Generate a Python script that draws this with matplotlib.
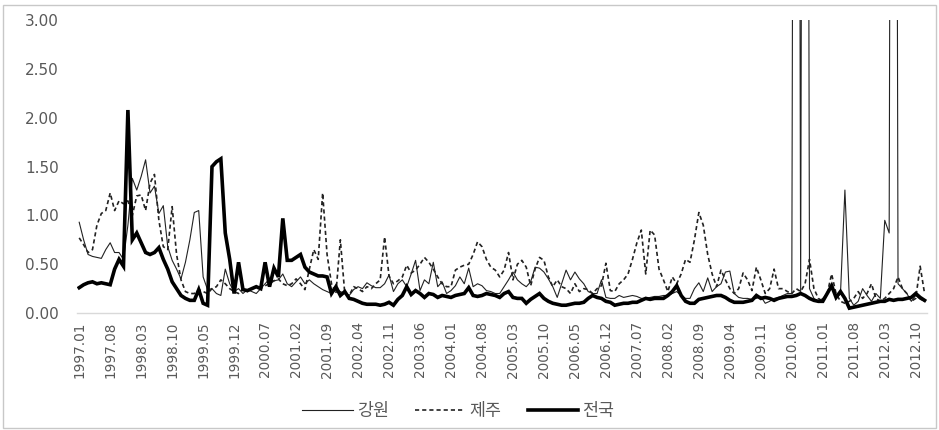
import numpy as np
import matplotlib
matplotlib.use('Agg')
import matplotlib.pyplot as plt
from matplotlib.patches import Rectangle

plt.rcParams['font.family'] = ['Noto Sans CJK KR', 'DejaVu Sans']

# 1997.01 ~ 2012.12 월별
months = ['%d.%02d' % (y, m) for y in range(1997, 2013) for m in range(1, 13)]

gangwon = [
    0.93, 0.75, 0.60, 0.58, 0.57, 0.56, 0.65, 0.72, 0.62, 0.62,
    0.55, 0.90, 1.38, 1.26, 1.40, 1.57, 1.23, 1.30, 1.02, 1.10,
    0.68, 0.54, 0.45, 0.35, 0.52, 0.75, 1.03, 1.05, 0.37, 0.24,
    0.25, 0.20, 0.18, 0.45, 0.30, 0.22, 0.25, 0.20, 0.24, 0.22,
    0.20, 0.25, 0.30, 0.35, 0.33, 0.34, 0.40, 0.30, 0.27, 0.32,
    0.37, 0.30, 0.34, 0.30, 0.27, 0.24, 0.22, 0.20, 0.25, 0.22,
    0.20, 0.18, 0.24, 0.27, 0.25, 0.31, 0.28, 0.26, 0.26, 0.30,
    0.39, 0.22, 0.30, 0.34, 0.27, 0.40, 0.54, 0.23, 0.34, 0.30,
    0.52, 0.27, 0.32, 0.20, 0.23, 0.28, 0.37, 0.30, 0.46, 0.27,
    0.30, 0.28, 0.23, 0.22, 0.20, 0.20, 0.27, 0.34, 0.42, 0.34,
    0.30, 0.27, 0.32, 0.47, 0.46, 0.42, 0.35, 0.27, 0.16, 0.30,
    0.44, 0.34, 0.42, 0.35, 0.30, 0.22, 0.20, 0.20, 0.34, 0.16,
    0.15, 0.15, 0.18, 0.16, 0.17, 0.18, 0.17, 0.15, 0.15, 0.16,
    0.17, 0.17, 0.18, 0.18, 0.20, 0.22, 0.18, 0.15, 0.15, 0.25,
    0.31, 0.22, 0.36, 0.22, 0.27, 0.30, 0.42, 0.43, 0.20, 0.16,
    0.15, 0.15, 0.14, 0.15, 0.17, 0.10, 0.12, 0.15, 0.16, 0.18,
    0.20, 0.20, 20.0, 0.20, 20.0, 0.25, 0.15, 0.12, 0.15, 0.20,
    0.30, 0.15, 0.20, 1.26, 0.15, 0.08, 0.12, 0.25, 0.18, 0.12,
    0.20, 0.15, 0.95, 0.82, 20.0, 0.30, 0.25, 0.20, 0.12, 0.18,
    0.14, 0.12,
]

jeju = [
    0.77, 0.70, 0.62, 0.65, 0.90, 1.02, 1.05, 1.23, 1.05, 1.15,
    1.12, 1.15, 1.00, 1.20, 1.21, 1.05, 1.33, 1.42, 0.95, 0.68,
    0.65, 1.09, 0.60, 0.34, 0.22, 0.20, 0.20, 0.24, 0.22, 0.20,
    0.25, 0.27, 0.34, 0.30, 0.25, 0.22, 0.20, 0.25, 0.22, 0.25,
    0.27, 0.25, 0.28, 0.30, 0.33, 0.35, 0.30, 0.28, 0.30, 0.35,
    0.30, 0.24, 0.45, 0.65, 0.55, 1.23, 0.60, 0.30, 0.20, 0.75,
    0.20, 0.18, 0.27, 0.25, 0.22, 0.27, 0.25, 0.30, 0.34, 0.78,
    0.38, 0.30, 0.33, 0.37, 0.49, 0.41, 0.44, 0.50, 0.57, 0.52,
    0.45, 0.37, 0.30, 0.27, 0.27, 0.44, 0.47, 0.49, 0.50, 0.60,
    0.73, 0.68, 0.55, 0.47, 0.44, 0.37, 0.44, 0.62, 0.34, 0.50,
    0.54, 0.47, 0.28, 0.45, 0.57, 0.54, 0.37, 0.27, 0.34, 0.27,
    0.25, 0.20, 0.30, 0.22, 0.25, 0.24, 0.20, 0.25, 0.28, 0.51,
    0.23, 0.22, 0.30, 0.34, 0.40, 0.55, 0.72, 0.85, 0.40, 0.85,
    0.80, 0.45, 0.34, 0.22, 0.37, 0.30, 0.40, 0.55, 0.52, 0.75,
    1.03, 0.90, 0.60, 0.40, 0.27, 0.44, 0.34, 0.25, 0.20, 0.25,
    0.41, 0.34, 0.23, 0.47, 0.34, 0.20, 0.25, 0.45, 0.25, 0.25,
    0.22, 0.20, 0.25, 0.22, 0.30, 0.55, 0.25, 0.15, 0.12, 0.20,
    0.40, 0.20, 0.12, 0.10, 0.12, 0.15, 0.22, 0.15, 0.20, 0.30,
    0.15, 0.12, 0.15, 0.20, 0.25, 0.37, 0.25, 0.20, 0.12, 0.15,
    0.48, 0.20,
]

national = [
    0.26, 0.29, 0.31, 0.32, 0.30, 0.31, 0.30, 0.29, 0.45, 0.55,
    0.48, 2.08, 0.75, 0.82, 0.72, 0.62, 0.60, 0.62, 0.67, 0.55,
    0.45, 0.32, 0.25, 0.18, 0.15, 0.13, 0.13, 0.24, 0.10, 0.08,
    1.50, 1.55, 1.58, 0.82, 0.55, 0.20, 0.52, 0.24, 0.23, 0.25,
    0.27, 0.25, 0.52, 0.27, 0.46, 0.37, 0.97, 0.54, 0.54, 0.57,
    0.60, 0.47, 0.42, 0.40, 0.38, 0.38, 0.37, 0.20, 0.27, 0.18,
    0.22, 0.15, 0.14, 0.12, 0.10, 0.09, 0.09, 0.09, 0.08, 0.09,
    0.11, 0.08, 0.14, 0.18, 0.27, 0.19, 0.23, 0.20, 0.16, 0.20,
    0.19, 0.16, 0.18, 0.17, 0.16, 0.18, 0.19, 0.20, 0.26, 0.18,
    0.17, 0.18, 0.20, 0.19, 0.18, 0.16, 0.20, 0.22, 0.16, 0.15,
    0.15, 0.10, 0.14, 0.17, 0.20, 0.15, 0.12, 0.10, 0.09, 0.08,
    0.08, 0.09, 0.10, 0.10, 0.11, 0.15, 0.18, 0.16, 0.15, 0.12,
    0.11, 0.08, 0.09, 0.10, 0.10, 0.11, 0.11, 0.13, 0.15, 0.14,
    0.15, 0.15, 0.15, 0.18, 0.22, 0.28, 0.18, 0.12, 0.10, 0.10,
    0.14, 0.15, 0.16, 0.17, 0.18, 0.18, 0.16, 0.13, 0.11, 0.11,
    0.11, 0.12, 0.13, 0.18, 0.15, 0.16, 0.15, 0.13, 0.15, 0.16,
    0.17, 0.17, 0.18, 0.20, 0.18, 0.15, 0.13, 0.12, 0.12, 0.20,
    0.28, 0.16, 0.22, 0.15, 0.05, 0.06, 0.07, 0.08, 0.09, 0.10,
    0.11, 0.12, 0.12, 0.14, 0.13, 0.14, 0.14, 0.15, 0.16, 0.20,
    0.16, 0.13,
]

label_step = 7
yticks = [0.0, 0.5, 1.0, 1.5, 2.0, 2.5, 3.0]
grey = '#595959'

fig = plt.figure(figsize=(9.39, 4.30), dpi=100)
ax = fig.add_axes([0.082, 0.272, 0.905, 0.681])

x = np.arange(len(months))
ax.plot(x, gangwon, color='#222222', lw=0.8, label='강원')
ax.plot(x, jeju, color='#222222', lw=1.2, ls=(0, (2.5, 1.8)), label='제주')
ax.plot(x, national, color='black', lw=2.6, label='전국', solid_joinstyle='miter')

ax.set_xlim(-0.5, len(months) - 0.5)
ax.set_ylim(0, 3.0)
ax.set_yticks(yticks)
ax.set_yticklabels(['%.2f' % v for v in yticks], fontsize=11, color=grey,
                   family='DejaVu Sans')
ax.set_xticks(x[::label_step])
ax.set_xticklabels(months[::label_step], rotation=90, fontsize=9.8, color=grey,
                   family='DejaVu Sans')
ax.tick_params(axis='both', length=0)
ax.tick_params(axis='y', pad=13)
ax.tick_params(axis='x', pad=6)

for side in ['top', 'right', 'left']:
    ax.spines[side].set_visible(False)
ax.spines['bottom'].set_color('#d9d9d9')
ax.spines['bottom'].set_linewidth(1.0)

leg = fig.legend(loc='center', bbox_to_anchor=(0.488, 0.045), ncol=3, frameon=False,
                 fontsize=12.5, handlelength=2.9, columnspacing=1.5, handletextpad=0.25)
for t in leg.get_texts():
    t.set_color(grey)

fig.patches.append(Rectangle((0.003, 0.004), 0.994, 0.984, transform=fig.transFigure,
                             fill=False, edgecolor='#c8c8c8', lw=1.0))

plt.savefig('out.png', dpi=100)
plt.close()
